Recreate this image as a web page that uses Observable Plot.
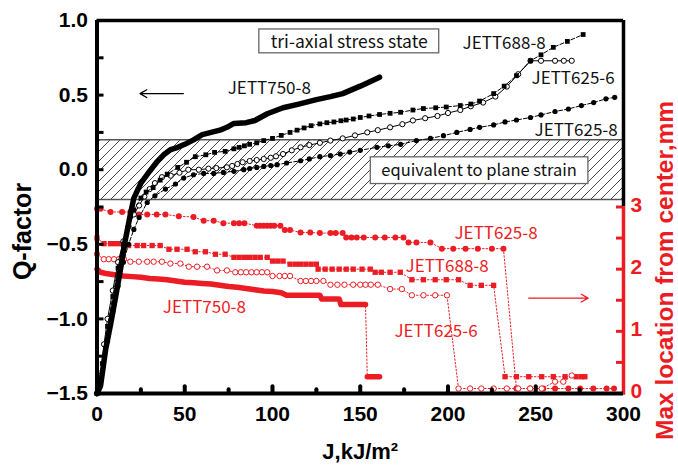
<!DOCTYPE html>
<html><head><meta charset="utf-8">
<script src="https://cdn.jsdelivr.net/npm/d3@7"></script>
<script src="https://cdn.jsdelivr.net/npm/@observablehq/plot@0.6"></script>
<style>body{margin:0;background:#fff}</style>
</head><body><div id="chart"></div>
<script>
// ---- Data: Q-factor (left axis) vs J, kJ/m^2 ----
const q750_8 = [[0,-1.5],[2,-1.45],[5,-1.2],[8,-1.02],[10.5,-0.86],[13.5,-0.66],[16,-0.48],[19,-0.3],[21,-0.19],[25,-0.09],[30,-0.01],[34,0.05],[38,0.1],[42,0.135],[46,0.15],[50,0.17],[55,0.2],[60,0.235],[65,0.25],[70,0.265],[75,0.29],[78,0.31],[85,0.315],[90,0.33],[97,0.375],[106,0.415],[115,0.44],[125,0.47],[133,0.49],[140,0.51],[150,0.56],[161,0.62]];
const q688_8 = [[0,-1.5],[3,-1.3],[6,-1.05],[9,-0.85],[12,-0.66],[15,-0.5],[18,-0.37],[21,-0.27],[25,-0.19],[28,-0.15],[32,-0.12],[36,-0.07],[40,-0.03],[46,0.015],[51,0.05],[56,0.087],[62,0.1],[67,0.116],[73,0.123],[78,0.14],[81,0.15],[84,0.16],[87,0.17],[91,0.18],[95,0.195],[100,0.21],[105,0.23],[110,0.25],[114,0.265],[118,0.28],[122,0.295],[127,0.307],[131,0.315],[135,0.32],[139,0.328],[142,0.333],[146,0.34],[150,0.35],[155,0.36],[161,0.37],[167,0.378],[173,0.385],[180,0.4],[186,0.41],[193,0.415],[199,0.42],[207,0.43],[213,0.44],[218,0.46],[226,0.51],[232,0.56],[239,0.63],[247,0.73],[253,0.77],[260,0.82],[268,0.86],[277,0.906]];
const q625_6 = [[0,-1.5],[2,-1.38],[4,-1.17],[6,-1.0],[9,-0.81],[12,-0.62],[15,-0.48],[18,-0.38],[21,-0.3],[24,-0.24],[27,-0.18],[30,-0.13],[33,-0.09],[37,-0.05],[42,-0.04],[47,-0.02],[52,0.0],[58,0.0],[63.5,0.007],[68,0.011],[74,0.016],[77,0.025],[80,0.038],[83,0.05],[87,0.058],[91,0.065],[95,0.072],[99,0.08],[102,0.09],[106,0.105],[111,0.13],[116,0.15],[121,0.165],[127,0.18],[133,0.195],[140,0.21],[147,0.23],[154,0.25],[160,0.265],[167,0.284],[174,0.305],[180,0.33],[187,0.345],[194,0.36],[200,0.38],[207,0.4],[213,0.425],[220,0.45],[227,0.49],[233.5,0.557],[240,0.64],[247,0.73],[253,0.73],[261,0.73],[266,0.73],[270.5,0.73]];
const q625_8 = [[0,-1.5],[3,-1.35],[6,-1.15],[9,-0.95],[12,-0.78],[15,-0.62],[18,-0.5],[21,-0.4],[24,-0.32],[28.6,-0.22],[33,-0.175],[39,-0.13],[44.7,-0.096],[49.4,-0.056],[55,-0.034],[60.8,-0.025],[66.5,-0.025],[72,-0.018],[78,-0.011],[83.6,0.0],[87,0.008],[91,0.015],[95,0.022],[99,0.028],[102.6,0.034],[108,0.045],[116,0.06],[121,0.072],[127,0.087],[133,0.095],[138.6,0.105],[144,0.118],[150,0.13],[159.5,0.15],[166,0.16],[173,0.17],[182,0.195],[190,0.21],[197.4,0.228],[205,0.25],[212.6,0.27],[218,0.284],[226,0.3],[232.5,0.32],[239,0.333],[247,0.35],[253,0.367],[261,0.39],[268.6,0.407],[276,0.43],[283,0.45],[290,0.475],[295,0.485]];

// ---- Data: Max location from center, mm (right axis) vs J ----
const m625_8 = [[0,2.97],[2,2.97],[7.7,2.92],[14.3,2.92],[19,2.92],[23.8,2.88],[28.6,2.88],[34,2.88],[39,2.88],[46.6,2.85],[55,2.84],[60.8,2.78],[66.5,2.78],[72,2.74],[78,2.74],[81,2.74],[84,2.74],[91,2.7],[93,2.7],[95,2.7],[97,2.7],[99,2.7],[101,2.7],[104.5,2.7],[107,2.63],[110,2.63],[116,2.59],[121.5,2.59],[127,2.58],[133,2.58],[136,2.58],[140,2.58],[142,2.51],[145,2.51],[148,2.51],[152,2.51],[158.5,2.51],[164,2.51],[170,2.51],[174.6,2.51],[177.5,2.43],[182,2.43],[190,2.43],[196.5,2.33],[203,2.33],[210,2.33],[217,2.33],[225,2.33],[231.6,2.33],[239,0.08],[246.8,0.08],[254.3,0.08],[261,0.08],[268.6,0.08],[275.3,0.08],[282.8,0.08],[290.4,0.08],[294.6,0.08]];
const m688_8 = [[0,2.5],[4,2.41],[7.7,2.41],[10.5,2.41],[13.4,2.41],[18,2.38],[22.9,2.38],[26.6,2.38],[31.4,2.38],[36,2.38],[41,2.32],[45.6,2.32],[51.3,2.32],[56,2.28],[61.8,2.28],[67.5,2.24],[73,2.24],[78,2.19],[81,2.19],[84,2.19],[87,2.19],[90,2.19],[93,2.19],[97,2.19],[100,2.13],[103,2.13],[106,2.13],[110,2.08],[113,2.08],[116,2.08],[119,2.08],[122,2.08],[125,2.08],[126,2.0],[130,2.0],[134,2.0],[138,2.0],[142,2.0],[146,2.0],[151,2.0],[155.7,2.0],[158.5,1.95],[162,1.95],[167,1.95],[172.8,1.95],[179.4,1.83],[186,1.83],[192.7,1.83],[199,1.83],[206,1.83],[212.6,1.74],[219,1.74],[226,1.74],[232.5,0.27],[239,0.27],[246,0.27],[253.4,0.27],[260,0.27],[266.7,0.27],[273,0.27],[276,0.27],[278,0.27]];
const m625_6 = [[0,2.24],[3.9,2.16],[6.7,2.16],[9.7,2.16],[12.5,2.16],[15.3,2.16],[19,2.12],[23.8,2.12],[28.6,2.12],[32.3,2.12],[37,2.12],[41.8,2.09],[47.5,2.09],[52.3,2.04],[57,2.04],[62.7,2.04],[68.4,1.98],[74,1.98],[78.8,1.95],[82,1.95],[85,1.95],[88,1.95],[91,1.95],[94,1.95],[97,1.95],[100,1.89],[104,1.89],[107,1.89],[110,1.89],[116,1.81],[119,1.81],[122,1.81],[125,1.81],[129,1.81],[133,1.75],[137,1.75],[141,1.75],[146,1.75],[150,1.75],[153,1.75],[156,1.75],[160,1.75],[167,1.68],[173.7,1.68],[179.4,1.58],[186,1.58],[192.7,1.58],[199.4,1.58],[206,0.08],[212.6,0.08],[219,0.08],[226,0.08],[233.5,0.08],[240,0.08],[246.8,0.08],[253.4,0.08],[261,0.19],[265.7,0.19],[270.5,0.29]];
const m750_8 = [[0,2.0],[2,1.95],[5,1.93],[10,1.91],[15,1.89],[20,1.88],[25,1.87],[30,1.85],[35,1.84],[40,1.83],[45,1.81],[50,1.79],[55,1.78],[60,1.77],[65,1.76],[70,1.74],[75,1.72],[80,1.71],[85,1.69],[90,1.67],[95,1.65],[100,1.64],[105,1.62],[108,1.58],[115,1.58],[122,1.58],[127,1.58],[128,1.52],[133,1.52],[138,1.52],[139,1.43],[146,1.43],[153,1.43],[154,0.27],[157,0.27],[161,0.27]];

// ---- Axis ticks / bands ----
const xTicks = [0,50,100,150,200,250,300];
const xMinorTicks = [25,75,125,175,225,275];
const yTicks = [-1.5,-1.0,-0.5,0.0,0.5,1.0];
const yTickMarks = [-1.25,-1.0,-0.75,-0.5,-0.25,0,0.25,0.5,0.75];
const rightTicks = [0,1,2,3];
const rightTickMarks = [0.5,1,1.5,2,2.5,3];
const planeStrainBand = [-0.2, 0.2];

const RED = "#ec1c24";
const mmToQ = m => -1.5 + m * 1.25 / 3;
const qToMm = q => (q + 1.5) * 3 / 1.25;
const LBL = "'Noto Sans CJK JP', 'Noto Sans', sans-serif";
const AX = "'Liberation Sans', Arial, sans-serif";

const X = d => d[0], Y = d => d[1], YR = d => mmToQ(d[1]);

const chart = Plot.plot({
  width: 678, height: 466,
  marginLeft: 96.5, marginRight: 55, marginTop: 20, marginBottom: 73,
  x: {domain: [0, 300]},
  y: {domain: [-1.5, 1.0]},
  style: {fontFamily: AX, background: "white"},
  marks: [
    // hatched band
    Plot.rect([planeStrainBand], {x1: 0, x2: 300, y1: d => d[0], y2: d => d[1], fill: "url(#hatch)"}),
    Plot.ruleY(planeStrainBand, {stroke: "#555", strokeWidth: 1.5}),
    // annotation boxes
    Plot.rect([0], {x1: 92.5, x2: 195, y1: 0.78, y2: 0.94, fill: "white", stroke: "#666", strokeWidth: 1.3}),
    Plot.text(["tri-axial stress state"], {x: 143.7, y: 0.855, text: d => d, fontFamily: LBL, fontSize: 17.5, fill: "#111"}),
    Plot.rect([0], {x1: 156, x2: 280, y1: -0.096, y2: 0.083, fill: "white", stroke: "#666", strokeWidth: 1.3}),
    Plot.text(["equivalent to plane strain"], {x: 217.7, y: -0.005, text: d => d, fontFamily: LBL, fontSize: 16.5, fill: "#111"}),

    // red series (right axis)
    Plot.line(m625_8, {x: X, y: YR, stroke: RED, strokeWidth: 1, strokeDasharray: "1.5,2"}),
    Plot.dot(m625_8, {x: X, y: YR, r: 3, fill: RED}),
    Plot.line(m688_8, {x: X, y: YR, stroke: RED, strokeWidth: 1, strokeDasharray: "1.5,2"}),
    Plot.dot(m688_8, {x: X, y: YR, symbol: "square", r: 3, fill: RED}),
    Plot.line(m625_6, {x: X, y: YR, stroke: RED, strokeWidth: 1, strokeDasharray: "1.5,2"}),
    Plot.dot(m625_6, {x: X, y: YR, r: 2.7, fill: "white", stroke: RED, strokeWidth: 1}),
    Plot.line(m750_8, {x: X, y: YR, stroke: RED, strokeWidth: 1, strokeDasharray: "1.5,2"}),
    Plot.line(m750_8, {x: X, y: YR, z: d => d[1] > 1, stroke: RED, strokeWidth: 5.5}),

    // black series (left axis)
    Plot.line(q625_8, {x: X, y: Y, stroke: "black", strokeWidth: 1, strokeDasharray: "4,2"}),
    Plot.dot(q625_8, {x: X, y: Y, r: 2.6, fill: "black"}),
    Plot.line(q625_6, {x: X, y: Y, stroke: "black", strokeWidth: 1}),
    Plot.dot(q625_6, {x: X, y: Y, r: 2.6, fill: "white", stroke: "black", strokeWidth: 1}),
    Plot.line(q688_8, {x: X, y: Y, stroke: "black", strokeWidth: 1, strokeDasharray: "4,2"}),
    Plot.dot(q688_8, {x: X, y: Y, symbol: "square", r: 2.7, fill: "black"}),
    Plot.line(q750_8, {x: X, y: Y, stroke: "black", strokeWidth: 5.5}),

    // series labels
    Plot.text(["JETT750-8"], {x: 98.2, y: 0.544, text: d => d, fontFamily: LBL, fontSize: 17, fill: "#111"}),
    Plot.text(["JETT688-8"], {x: 232, y: 0.846, text: d => d, fontFamily: LBL, fontSize: 17, fill: "#111"}),
    Plot.text(["JETT625-6"], {x: 271.3, y: 0.611, text: d => d, fontFamily: LBL, fontSize: 17, fill: "#111"}),
    Plot.text(["JETT625-8"], {x: 273, y: 0.262, text: d => d, fontFamily: LBL, fontSize: 17, fill: "#111"}),
    Plot.text(["JETT625-8"], {x: 227.4, y: -0.43, text: d => d, fontFamily: LBL, fontSize: 17, fill: RED}),
    Plot.text(["JETT688-8"], {x: 199.5, y: -0.651, text: d => d, fontFamily: LBL, fontSize: 17, fill: RED}),
    Plot.text(["JETT625-6"], {x: 193.2, y: -1.087, text: d => d, fontFamily: LBL, fontSize: 17, fill: RED}),
    Plot.text(["JETT750-8"], {x: 61.2, y: -0.926, text: d => d, fontFamily: LBL, fontSize: 17, fill: RED}),
    Plot.arrow([0], {x1: 49.2, x2: 24.5, y1: 0.51, y2: 0.51, stroke: "black", strokeWidth: 1.3, headLength: 9}),
    Plot.arrow([0], {x1: 246, x2: 279.8, y1: -0.861, y2: -0.861, stroke: RED, strokeWidth: 1.3, headLength: 9}),

    // tick marks (inward)
    Plot.ruleY(yTickMarks, {x1: 0, x2: 4, stroke: "black", strokeWidth: 3}),
    Plot.ruleX(xMinorTicks, {y1: -1.5, y2: -1.475, stroke: "black", strokeWidth: 4, strokeLinecap: "round"}),
    Plot.ruleX(xTicks.slice(1, -1), {y1: -1.5, y2: -1.455, stroke: "black", strokeWidth: 4, strokeLinecap: "round"}),
    Plot.ruleY(rightTickMarks.map(mmToQ), {x1: 296, x2: 300, stroke: RED, strokeWidth: 3}),

    // frame
    Plot.ruleY([1.0], {x1: 0, x2: 300, stroke: "black", strokeWidth: 3.5}),
    Plot.ruleX([300], {y1: mmToQ(3), y2: 1.0, stroke: "black", strokeWidth: 3.5}),
    Plot.ruleX([300], {y1: mmToQ(-0.03), y2: mmToQ(3), stroke: RED, strokeWidth: 3.5}),
    Plot.ruleX([0], {y1: -1.5, y2: 1.0, stroke: "black", strokeWidth: 4}),
    Plot.ruleY([-1.5], {x1: 0, x2: 300, stroke: "black", strokeWidth: 4}),

    // axes
    Plot.axisX({ticks: xTicks, tickSize: 0, tickPadding: 13, tickFormat: d3.format("d"), fontSize: 21, fontWeight: "bold", fill: "black", label: null}),
    Plot.axisY({ticks: yTicks, tickSize: 0, tickPadding: 9, tickFormat: d3.format(".1f"), fontSize: 21, fontWeight: "bold", fill: "black", label: null}),
    Plot.axisY({anchor: "right", ticks: rightTicks.map(mmToQ), tickSize: 0, tickPadding: 7, dy: -2, tickFormat: q => String(Math.round(qToMm(q))), fontSize: 21, fontWeight: "bold", color: RED, label: null}),

    // axis titles
    Plot.text(["Q-factor"], {frameAnchor: "left", dx: -74, dy: 24.5, rotate: -90, textAnchor: "middle", lineAnchor: "middle", text: d => d, fontSize: 25, fontWeight: "bold", fill: "black"}),
    Plot.text(["J,kJ/m²"], {frameAnchor: "bottom", dy: 58, textAnchor: "middle", lineAnchor: "middle", text: d => d, fontSize: 22, fontWeight: "bold", fill: "black"}),
    Plot.text(["Max location from center,mm"], {frameAnchor: "right", dx: 42, dy: 63.5, rotate: -90, textAnchor: "middle", lineAnchor: "middle", text: d => d, fontSize: 24.5, fontWeight: "bold", fill: RED})
  ]
});

// hatch pattern definition
const svg = chart.tagName.toLowerCase() === "svg" ? chart : chart.querySelector("svg");
const ns = "http://www.w3.org/2000/svg";
const defs = document.createElementNS(ns, "defs");
const pat = document.createElementNS(ns, "pattern");
pat.setAttribute("id", "hatch");
pat.setAttribute("patternUnits", "userSpaceOnUse");
pat.setAttribute("width", "10");
pat.setAttribute("height", "10");
const bg = document.createElementNS(ns, "rect");
bg.setAttribute("width", "10"); bg.setAttribute("height", "10"); bg.setAttribute("fill", "white");
pat.appendChild(bg);
const p = document.createElementNS(ns, "path");
p.setAttribute("d", "M-1,1 l2,-2 M0,10 l10,-10 M9,11 l2,-2");
p.setAttribute("stroke", "#333");
p.setAttribute("stroke-width", "0.9");
pat.appendChild(p);
defs.appendChild(pat);
svg.insertBefore(defs, svg.firstChild);

document.getElementById("chart").appendChild(chart);
</script>
</body></html>
